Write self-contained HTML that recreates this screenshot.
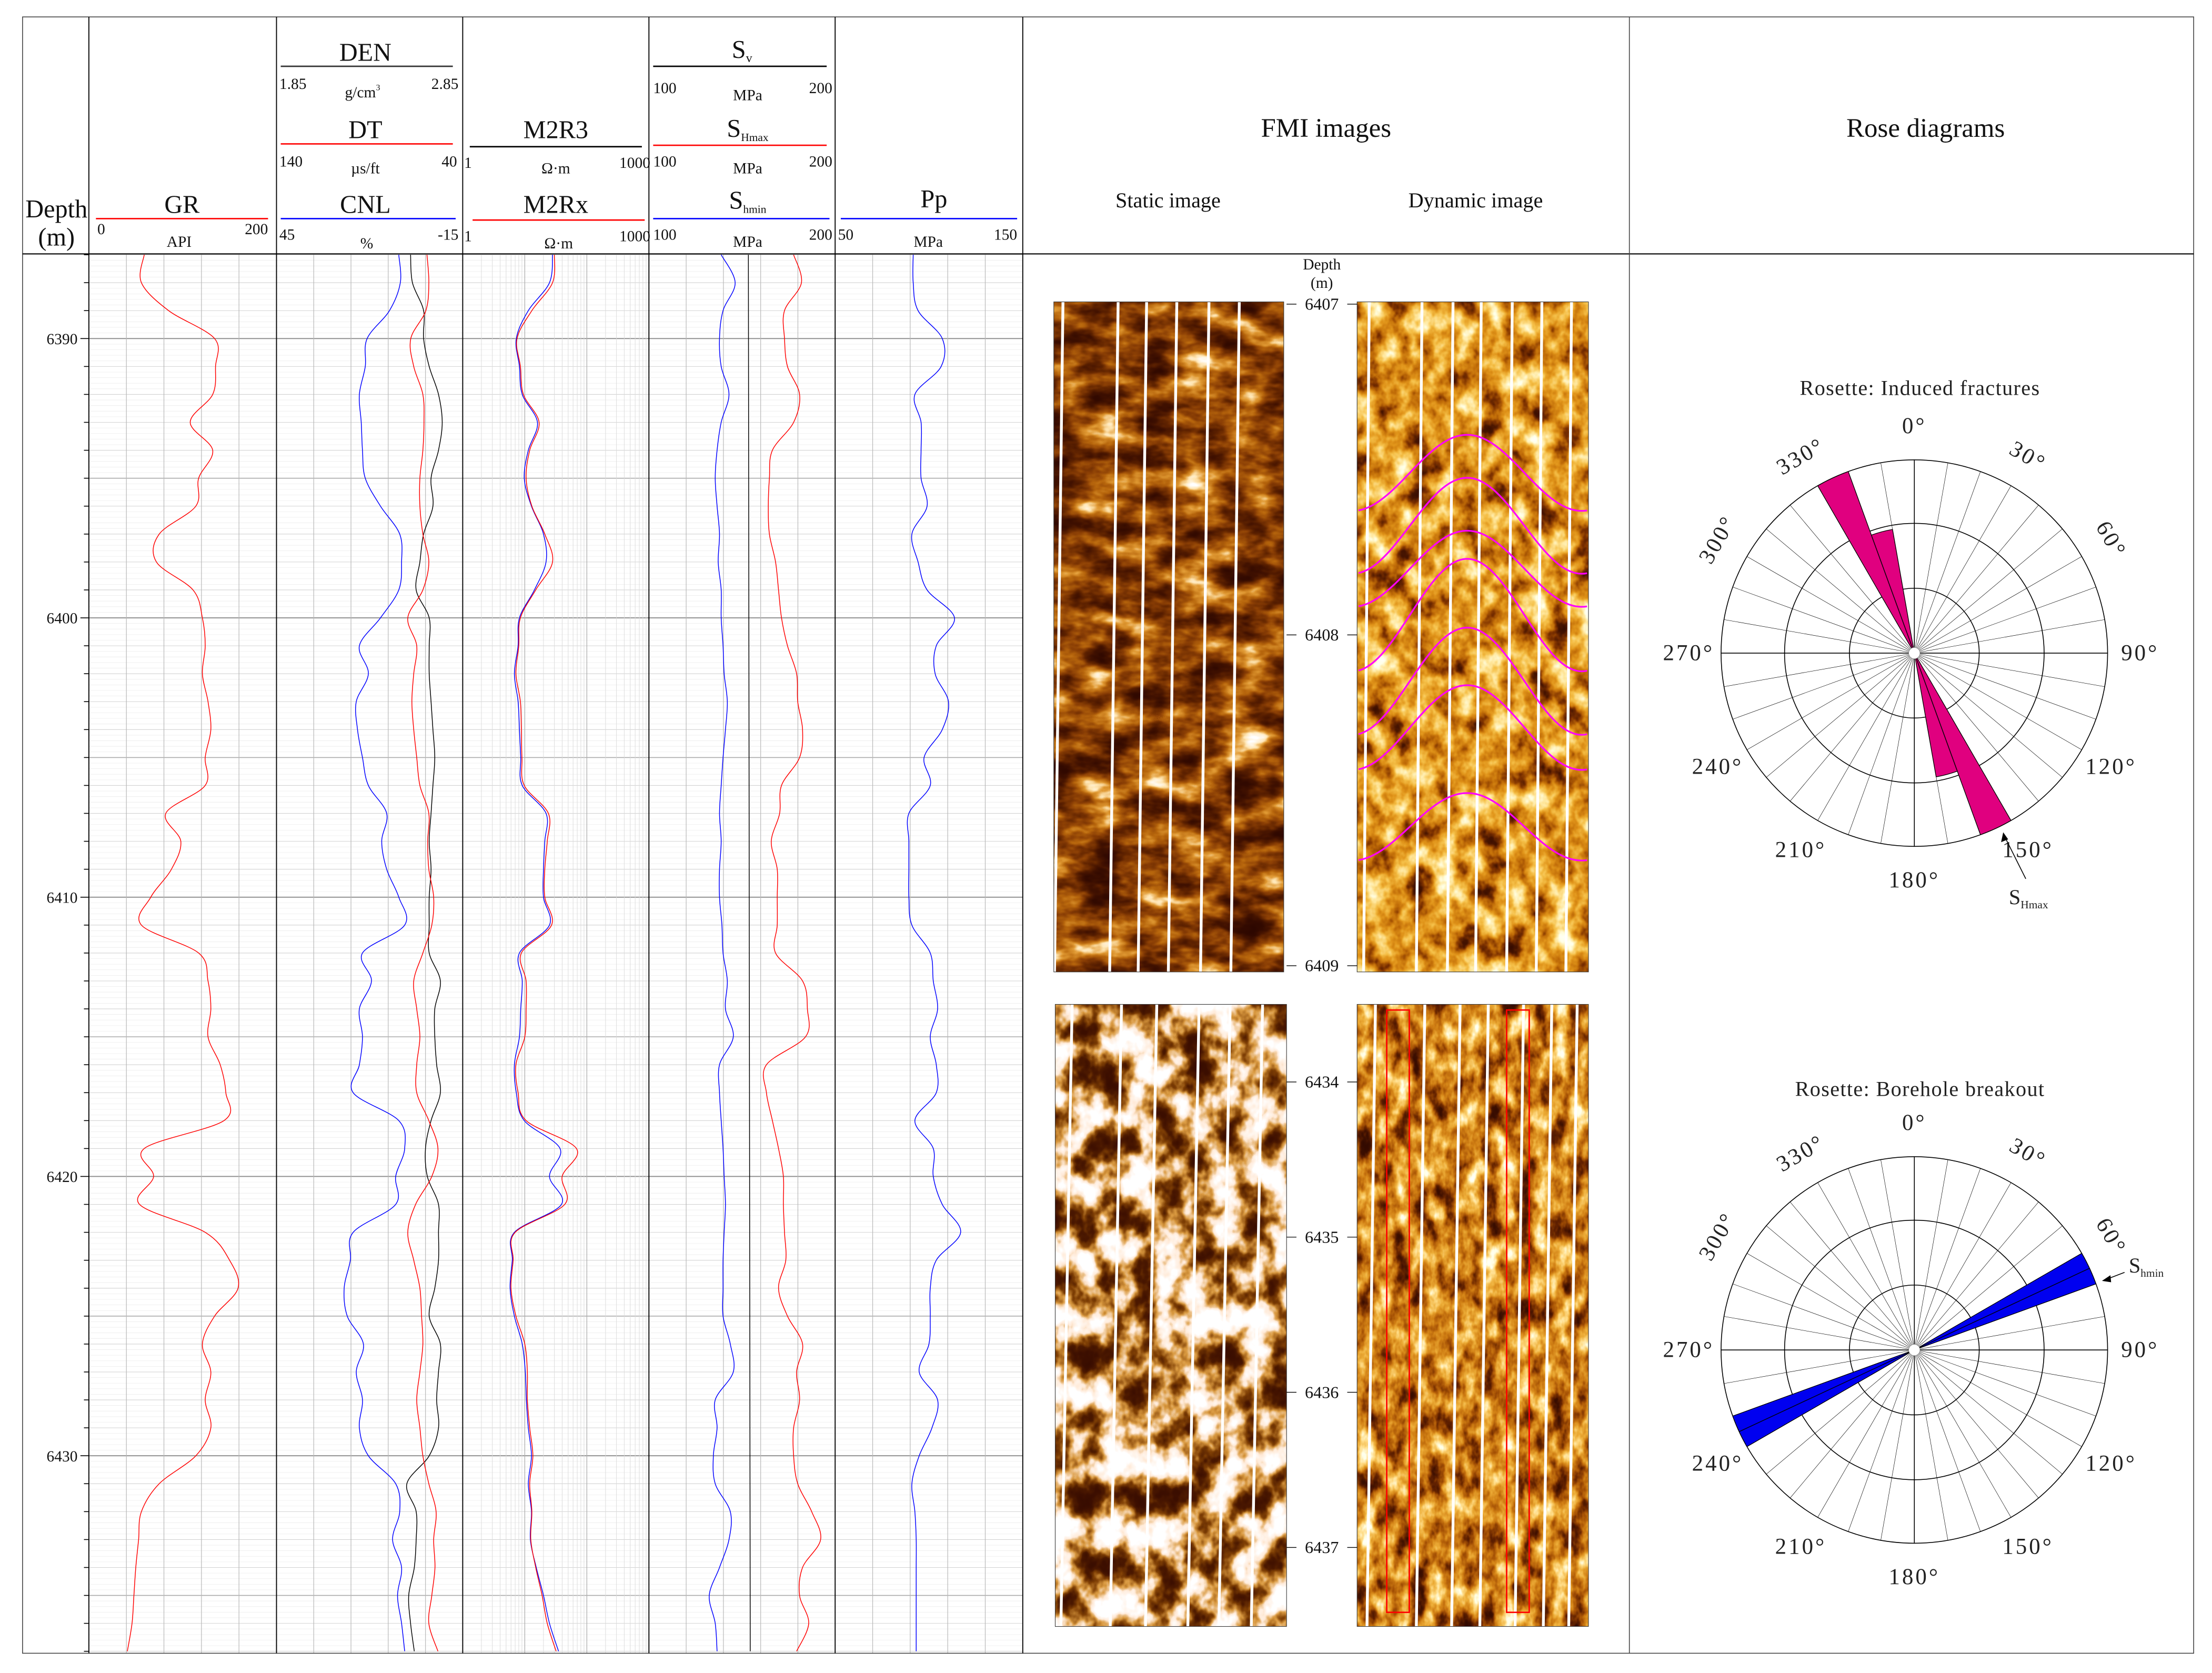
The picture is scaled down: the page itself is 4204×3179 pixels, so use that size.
<!DOCTYPE html>
<html><head><meta charset="utf-8"><style>
html,body{margin:0;padding:0;background:#fff;}
svg{display:block;font-family:"Liberation Serif",serif;}
filter{color-interpolation-filters:sRGB;}
</style></head><body>
<svg id="fig" xmlns="http://www.w3.org/2000/svg" width="4204" height="3179" viewBox="0 0 1568 1186" preserveAspectRatio="none">
<defs>
<filter id="fS1" x="0" y="0" width="1" height="1" color-interpolation-filters="sRGB"><feTurbulence type="fractalNoise" baseFrequency="0.03 0.06" numOctaves="4" seed="3"/><feColorMatrix type="matrix" values="1 0 0 0 0 1 0 0 0 0 1 0 0 0 0 0 0 0 0 1"/><feComponentTransfer><feFuncR type="table" tableValues="0.18 0.18 0.2 0.26 0.38 0.55 0.72 0.88 1 1 1"/><feFuncG type="table" tableValues="0.03 0.03 0.04 0.07 0.14 0.25 0.4 0.6 0.9 1 1"/><feFuncB type="table" tableValues="0 0 0 0 0 0.02 0.05 0.2 0.7 1 1"/><feFuncA type="linear" slope="0" intercept="1"/></feComponentTransfer></filter>
<filter id="fD1" x="0" y="0" width="1" height="1" color-interpolation-filters="sRGB"><feTurbulence type="fractalNoise" baseFrequency="0.06 0.05" numOctaves="4" seed="7"/><feColorMatrix type="matrix" values="1 0 0 0 0 1 0 0 0 0 1 0 0 0 0 0 0 0 0 1"/><feComponentTransfer><feFuncR type="table" tableValues="0.2 0.22 0.28 0.5 0.75 0.88 0.96 1 1 1 1"/><feFuncG type="table" tableValues="0.04 0.05 0.08 0.2 0.42 0.58 0.75 0.9 1 1 1"/><feFuncB type="table" tableValues="0 0 0 0 0.03 0.1 0.28 0.6 0.9 1 1"/><feFuncA type="linear" slope="0" intercept="1"/></feComponentTransfer></filter>
<filter id="fS2" x="0" y="0" width="1" height="1" color-interpolation-filters="sRGB"><feTurbulence type="fractalNoise" baseFrequency="0.05 0.04" numOctaves="4" seed="11"/><feColorMatrix type="matrix" values="1 0 0 0 0 1 0 0 0 0 1 0 0 0 0 0 0 0 0 1"/><feComponentTransfer><feFuncR type="table" tableValues="0.22 0.22 0.24 0.3 0.5 0.85 1 1 1 1 1"/><feFuncG type="table" tableValues="0.05 0.05 0.06 0.1 0.25 0.6 0.92 1 1 1 1"/><feFuncB type="table" tableValues="0 0 0 0 0.02 0.25 0.85 1 1 1 1"/><feFuncA type="linear" slope="0" intercept="1"/></feComponentTransfer></filter>
<filter id="fD2" x="0" y="0" width="1" height="1" color-interpolation-filters="sRGB"><feTurbulence type="fractalNoise" baseFrequency="0.08 0.05" numOctaves="4" seed="19"/><feColorMatrix type="matrix" values="1 0 0 0 0 1 0 0 0 0 1 0 0 0 0 0 0 0 0 1"/><feComponentTransfer><feFuncR type="table" tableValues="0.2 0.2 0.24 0.4 0.65 0.82 0.93 1 1 1 1"/><feFuncG type="table" tableValues="0.04 0.04 0.06 0.14 0.32 0.5 0.68 0.86 1 1 1"/><feFuncB type="table" tableValues="0 0 0 0 0.02 0.08 0.22 0.52 0.9 1 1"/><feFuncA type="linear" slope="0" intercept="1"/></feComponentTransfer></filter>
</defs>
<g id="grid"></g>
<g id="curves"></g>
<g id="fmi"></g>
<g id="roses"></g>
<g id="frame" fill="none">
<rect x="16" y="12" width="1539" height="1160" stroke="#444" stroke-width="0.6"/>
<line x1="16" y1="180" x2="1555" y2="180" stroke="#000" stroke-width="0.8"/>
<line x1="63" y1="12" x2="63" y2="1172" stroke="#000" stroke-width="0.7"/>
<line x1="196" y1="12" x2="196" y2="1172" stroke="#000" stroke-width="0.7"/>
<line x1="328" y1="12" x2="328" y2="1172" stroke="#000" stroke-width="0.7"/>
<line x1="460" y1="12" x2="460" y2="1172" stroke="#000" stroke-width="0.7"/>
<line x1="592" y1="12" x2="592" y2="1172" stroke="#000" stroke-width="0.7"/>
<line x1="725" y1="12" x2="725" y2="1172" stroke="#000" stroke-width="0.7"/>
<line x1="1155" y1="12" x2="1155" y2="1172" stroke="#444" stroke-width="0.6"/>
</g>
<g id="header" fill="#111" text-anchor="middle">
<text x="40" y="154" font-size="18">Depth</text>
<text x="40" y="174" font-size="18">(m)</text>
<text x="129" y="151" font-size="18">GR</text>
<line x1="68" y1="155" x2="190" y2="155" stroke="#f00" stroke-width="1"/>
<text x="69" y="166" font-size="11" text-anchor="start">0</text>
<text x="190" y="166" font-size="11" text-anchor="end">200</text>
<text x="127" y="175" font-size="11">API</text>
<text x="259" y="43" font-size="18">DEN</text>
<line x1="199" y1="47" x2="321" y2="47" stroke="#333" stroke-width="1"/>
<text x="198" y="63" font-size="11" text-anchor="start">1.85</text>
<text x="325" y="63" font-size="11" text-anchor="end">2.85</text>
<text x="257" y="69" font-size="11">g/cm<tspan font-size="6" dy="-5">3</tspan></text>
<text x="259" y="98" font-size="18">DT</text>
<line x1="199" y1="102" x2="321" y2="102" stroke="#f00" stroke-width="1"/>
<text x="198" y="118" font-size="11" text-anchor="start">140</text>
<text x="324" y="118" font-size="11" text-anchor="end">40</text>
<text x="259" y="123" font-size="11">µs/ft</text>
<text x="259" y="151" font-size="18">CNL</text>
<line x1="199" y1="155" x2="323" y2="155" stroke="#00f" stroke-width="1"/>
<text x="198" y="170" font-size="11" text-anchor="start">45</text>
<text x="325" y="170" font-size="11" text-anchor="end">-15</text>
<text x="260" y="176" font-size="11">%</text>
<text x="394" y="98" font-size="18">M2R3</text>
<line x1="333" y1="104" x2="455" y2="104" stroke="#000" stroke-width="1"/>
<text x="329" y="119" font-size="11" text-anchor="start">1</text>
<text x="461" y="119" font-size="11" text-anchor="end">1000</text>
<text x="394" y="123" font-size="11">Ω·m</text>
<text x="394" y="151" font-size="18">M2Rx</text>
<line x1="335" y1="156" x2="457" y2="156" stroke="#f00" stroke-width="1"/>
<text x="329" y="171" font-size="11" text-anchor="start">1</text>
<text x="461" y="171" font-size="11" text-anchor="end">1000</text>
<text x="396" y="176" font-size="11">Ω·m</text>
<text x="526" y="41" font-size="18">S<tspan font-size="9" dy="3">v</tspan></text>
<line x1="463" y1="47" x2="586" y2="47" stroke="#000" stroke-width="1"/>
<text x="463" y="66" font-size="11" text-anchor="start">100</text>
<text x="590" y="66" font-size="11" text-anchor="end">200</text>
<text x="530" y="71" font-size="11">MPa</text>
<text x="530" y="97" font-size="18">S<tspan font-size="8" dy="3">Hmax</tspan></text>
<line x1="463" y1="103" x2="586" y2="103" stroke="#f00" stroke-width="1"/>
<text x="463" y="118" font-size="11" text-anchor="start">100</text>
<text x="590" y="118" font-size="11" text-anchor="end">200</text>
<text x="530" y="123" font-size="11">MPa</text>
<text x="530" y="148" font-size="18">S<tspan font-size="8" dy="3">hmin</tspan></text>
<line x1="463" y1="155" x2="588" y2="155" stroke="#00f" stroke-width="1"/>
<text x="463" y="170" font-size="11" text-anchor="start">100</text>
<text x="590" y="170" font-size="11" text-anchor="end">200</text>
<text x="530" y="175" font-size="11">MPa</text>
<text x="662" y="147" font-size="18">Pp</text>
<line x1="596" y1="155" x2="721" y2="155" stroke="#00f" stroke-width="1"/>
<text x="594" y="170" font-size="11" text-anchor="start">50</text>
<text x="721" y="170" font-size="11" text-anchor="end">150</text>
<text x="658" y="175" font-size="11">MPa</text>
<text x="940" y="97" font-size="19">FMI images</text>
<text x="828" y="147" font-size="15">Static image</text>
<text x="1046" y="147" font-size="15">Dynamic image</text>
<text x="1365" y="97" font-size="19">Rose diagrams</text>
<text x="937" y="191" font-size="11">Depth</text>
<text x="937" y="204" font-size="11">(m)</text>
</g>
</svg>
<script>
// ---------- data ----------
const depth = [6387,6388,6389,6390,6391,6392,6393,6394,6395,6396,6397,6398,6399,6400,6401,6402,6403,6404,6405,6406,6407,6408,6409,6410,6411,6412,6413,6414,6415,6416,6417,6418,6419,6420,6421,6422,6423,6424,6425,6426,6427,6428,6429,6430,6431,6432,6433,6434,6435,6436,6437];
const gr = [59,56,85,134,135,132,108,132,117,114,75,72,111,121,124,121,127,130,124,124,82,98,88,66,56,117,127,130,127,140,146,144,59,69,54,124,150,159,134,121,130,124,130,114,75,56,53,50,48,46,41];
const cnl = [5.6,5.1,8.6,15.8,16.4,18.3,17.7,17.3,16.4,11.5,5.3,4.7,5.6,11.5,18.3,15.4,19.3,18.9,17.3,15.4,9.5,11.1,9.5,5.6,3.7,17.3,14.4,18.3,17.3,18.3,20.3,5.6,3.7,6.6,6.6,20.3,21.2,23.2,22.2,17.0,19.3,17.3,18.3,15.4,6.6,5.3,7.6,4.7,6.0,4.7,3.7];
const den = [2.57,2.58,2.64,2.64,2.67,2.72,2.74,2.72,2.68,2.69,2.64,2.62,2.60,2.67,2.67,2.67,2.68,2.69,2.70,2.69,2.68,2.67,2.68,2.67,2.67,2.67,2.73,2.70,2.70,2.71,2.73,2.68,2.65,2.66,2.72,2.72,2.72,2.70,2.67,2.73,2.72,2.71,2.72,2.67,2.55,2.60,2.60,2.59,2.56,2.57,2.59];
const dt = [59.2,58.2,59.8,67.9,66.3,61.4,60.8,61.4,63.0,63.0,61.4,58.2,61.4,69.5,64.7,66.3,67.3,66.3,64.7,63.0,58.2,58.8,58.2,55.6,56.6,61.4,66.3,64.7,63.0,64.7,64.7,58.2,53.3,56.6,65.3,69.5,66.3,63.0,62.1,61.4,63.0,64.7,63.0,61.4,58.2,54.3,55.6,54.9,56.6,58.2,53.3];
const m2r3 = [28,25,11.4,7.3,8.2,9.1,16,11.4,9.8,12.8,20,22,14.3,8.2,7.8,6.8,7.8,8.2,8.6,9.1,22,21,20,20,25,8.2,9.1,8.6,8.2,6.8,7.3,9.8,37,25,39,6.8,6.3,5.8,6.8,9.1,10.2,10.6,11.4,12.8,11.4,12.8,12.3,15.3,20,25,35];
const m2rx = [30,28,13,7.5,8.5,9.5,17,12,10.5,13,21,28,15,8.5,8,7.2,8.5,8.8,9,9.8,24,23,21,21,27,8.8,10.5,10.5,10,7.2,7.8,10.5,68,40,44,7,6.5,6,7.2,10,11,11,12,13.5,12,13,12.5,15,19,23,32];
const svDepth = [6387,6437];
const sv = [153.4,154.4];
const shmin = [138.8,146.3,139.8,137.9,138.8,143.0,138.8,136.6,135.6,136.6,137.9,137.2,138.8,138.8,139.8,140.4,142.1,141.1,139.8,138.8,137.9,138.8,137.9,137.9,139.2,139.8,142.1,141.1,145.3,137.9,137.9,138.8,139.8,140.4,141.1,140.4,139.8,139.8,139.8,143.7,145.3,135.6,136.6,134.6,135.6,143.7,143.0,137.9,132.4,135.6,136.6];
const shmax = [177.7,181.9,172.8,172.8,174.4,180.9,177.7,166.3,164.7,164.1,164.7,168.0,169.6,171.2,174.4,179.3,179.9,182.5,180.9,171.2,170.2,165.7,168.9,168.9,168.9,168.0,182.5,185.1,184.1,163.1,163.1,166.3,169.6,172.2,172.2,172.8,173.5,169.6,174.4,182.5,179.3,180.9,177.7,177.7,179.9,187.4,192.2,182.5,180.9,185.8,179.3];
const pp = [91.6,91.6,94.2,107.1,106.5,92.5,95.8,95.8,95.8,99.0,90.9,94.2,99.0,113.6,103.9,103.3,110.4,107.1,97.4,100.7,89.3,89.3,89.3,89.3,90.9,100.7,102.3,104.6,100.7,103.9,103.9,92.5,102.3,102.3,107.1,116.9,103.9,100.7,100.7,100.0,94.8,104.6,101.6,94.8,90.9,92.5,93.2,93.2,93.2,93.2,93.2];
const depthTicks = [6390,6400,6410,6420,6430];
const roseIFStart = [330,340,150,160];
const roseIFLen = [1.0,0.65,1.0,0.65];
const roseBBStart = [60,240];
const roseBBLen = [1.0,1.0];
const roseWidth = 10;
const roseLabels = [0,30,60,90,120,150,180,210,240,270,300,330];
const fmi1Ticks = [6407,6408,6409];
const fmi2Ticks = [6434,6435,6436,6437];
const sinCenters = [6407.51,6407.67,6407.80,6407.94,6408.14,6408.28,6408.58];
const sinAmps = [0.115,0.145,0.115,0.17,0.162,0.128,0.102];

// ---------- geometry ----------
const NS='http://www.w3.org/2000/svg';
const Y0=240, PX_PER_M=19.8, TOP=180, BOT=1172;
function yD(d){return Y0+(d-6390)*PX_PER_M;}
function lin(x0,x1,v0,v1){return v=>x0+(v-v0)/(v1-v0)*(x1-x0);}
function logx(x0,x1,v0,v1){return v=>x0+(Math.log10(v)-Math.log10(v0))/(Math.log10(v1)-Math.log10(v0))*(x1-x0);}
const T={gr:[63,196],den:[196,328],res:[328,460],str:[460,592],pp:[592,725]};
const xGR=lin(63,196,0,200), xDEN=lin(196,328,1.85,2.85), xDT=lin(196,328,140,40), xCNL=lin(196,328,45,-15);
const xRES=logx(328,460,1,1000), xSTR=lin(460,592,100,200), xPP=lin(592,725,50,150);
function el(tag,attrs,parent){const e=document.createElementNS(NS,tag);for(const k in attrs)e.setAttribute(k,attrs[k]);parent.appendChild(e);return e;}
function smooth(pts){let d='M'+pts[0][0].toFixed(2)+','+pts[0][1].toFixed(2);
 for(let i=0;i<pts.length-1;i++){const p0=pts[Math.max(0,i-1)],p1=pts[i],p2=pts[i+1],p3=pts[Math.min(pts.length-1,i+2)];
 const c1=[p1[0]+(p2[0]-p0[0])/6,p1[1]+(p2[1]-p0[1])/6],c2=[p2[0]-(p3[0]-p1[0])/6,p2[1]-(p3[1]-p1[1])/6];
 d+='C'+c1[0].toFixed(2)+','+c1[1].toFixed(2)+' '+c2[0].toFixed(2)+','+c2[1].toFixed(2)+' '+p2[0].toFixed(2)+','+p2[1].toFixed(2);}
 return d;}

// ---------- grid ----------
const G=document.getElementById('grid');
for(let k=0;k<=250;k++){const dd=6387+k*0.2;const y=yD(dd);if(y<TOP||y>BOT)continue;
 const isM=(k%5===0);const r=Math.round(dd);
 let c='#ececec',w=0.3; if(isM){c='#d2d2d2';w=0.4;} if(isM&&r%5===0){c='#aaaaaa';w=0.6;} if(isM&&r%10===0){c='#8c8c8c';w=0.7;}
 const ln=el('line',{x1:63,x2:725,y1:y,y2:y,stroke:c,'stroke-width':w},G);
 
 
}
for(const k of ['gr','den','str','pp']){const [a,b]=T[k];for(let i=1;i<5;i++){const x=a+(b-a)*i/5;
 const ln=el('line',{x1:x,x2:x,y1:TOP,y2:BOT,stroke:'#b8b8b8','stroke-width':0.45},G);
 
 }}
for(let dec=0;dec<3;dec++)for(let m=1;m<=9;m++){const v=Math.pow(10,dec)*m;if(v===1)continue;const x=xRES(v);
 const ln=el('line',{x1:x,x2:x,y1:TOP,y2:BOT,stroke:m===1?'#b0b0b0':'#dadada','stroke-width':m===1?0.5:0.35},G);
 
 }
for(let d=6387;d<=6437;d++){const y=yD(d);const big=d%10===0;
 const tk=el('line',{x1:big?57:59.5,x2:63,y1:y,y2:y,stroke:'#000','stroke-width':0.6},G);
 
 }
depthTicks.forEach(d=>{const t=el('text',{x:55,y:yD(d)+4,'font-size':11,'text-anchor':'end',fill:'#111'},G);t.textContent=d;
 
 });

// ---------- curves ----------
const C=document.getElementById('curves');
function curve(vals,xf,color,name,dep){const ds=dep||depth;const pts=vals.map((v,i)=>[xf(v),yD(ds[i])]);
 const p=el('path',{d:smooth(pts),fill:'none',stroke:color,'stroke-width':0.55,'stroke-linejoin':'round'},C);
 
 }
curve(gr,xGR,'#f00','gr-curve');
curve(den,xDEN,'#000','den-curve');
curve(dt,xDT,'#f00','dt-curve');
curve(cnl,xCNL,'#00f','cnl-curve');
curve(m2r3,xRES,'#00f','m2r3-curve');
curve(m2rx,xRES,'#f00','m2rx-curve');
curve(sv,xSTR,'#000','sv-curve',svDepth);
curve(shmin,xSTR,'#00f','shmin-curve');
curve(shmax,xSTR,'#f00','shmax-curve');
curve(pp,xPP,'#00f','pp-curve');

// ---------- FMI ----------
const F=document.getElementById('fmi');
function fmiImg(x,y,w,h,filt,name,lines,slant){
 const r=el('rect',{x:x,y:y,width:w,height:h,filter:'url(#'+filt+')'},F);
 
 
 lines.forEach(lx=>{const l=el('line',{x1:lx,y1:y,x2:lx-slant,y2:y+h,stroke:'#fff','stroke-width':2},F);
  
  });
 const b=el('rect',{x:x,y:y,width:w,height:h,fill:'none',stroke:'#333','stroke-width':0.4},F);
 
 
}
fmiImg(747,214,163,475,'fS1','static-image-upper',[753.5,792.6,812.8,834.2,857,878.5],6);
fmiImg(962,214,164,475,'fD1','dynamic-image-upper',[970.6,1008,1030,1050,1072,1093,1114],4);
fmiImg(748,712,164,441,'fS2','static-image-lower',[760,795,820,850,872,895],8);
fmiImg(962,712,164,441,'fD2','dynamic-image-lower',[975,1010,1035,1055,1080,1100,1118],6);
const fY1=d=>215.6+(d-6407)*234.5;
sinCenters.forEach((c,i)=>{const pts=[];for(let x=963;x<=1126;x+=2){pts.push([x,fY1(c)-sinAmps[i]*234.5*Math.cos(2*Math.PI*(x-1040)/162.6)]);}
 const p=el('path',{d:'M'+pts.map(q=>q[0]+','+q[1].toFixed(2)).join('L'),fill:'none',stroke:'#f0f','stroke-width':1.2},F);
 
 });
[[983,716,16,427],[1068,716,16,427]].forEach(b=>{const r=el('rect',{x:b[0],y:b[1],width:b[2],height:b[3],fill:'none',stroke:'#f00','stroke-width':1},F);
 
 });
function fTick(d,y){const l1=el('line',{x1:912,x2:919,y1:y,y2:y,stroke:'#000','stroke-width':0.5},F);
 
 
 const l2=el('line',{x1:955,x2:962,y1:y,y2:y,stroke:'#000','stroke-width':0.5},F);
 
 
 const t=el('text',{x:937,y:y+4,'font-size':12,'text-anchor':'middle',fill:'#111'},F);t.textContent=d;
 
 }
fmi1Ticks.forEach(d=>fTick(d,215.6+(d-6407)*234.5));
fmi2Ticks.forEach(d=>fTick(d,767+(d-6434)*110));

// ---------- roses ----------
const R=document.getElementById('roses');
function rose(cx,cy,title,starts,lens,color,name,midline,tOff){
 const RR=137;
 const t=el('text',{x:cx+4,y:cy-tOff,'font-size':15,'text-anchor':'middle',fill:'#222','letter-spacing':'0.5'},R);t.textContent=title;
 
 
 const bg=el('circle',{cx:cx,cy:cy,r:RR,fill:'#fff',stroke:'#000','stroke-width':0.6},R);
 
 
 for(let a=0;a<360;a+=10){const rad=a*Math.PI/180;const major=a%90===0;
  const s=el('line',{x1:cx,y1:cy,x2:cx+RR*Math.sin(rad),y2:cy-RR*Math.cos(rad),stroke:'#000','stroke-width':major?0.6:0.25},R);
  
  }
 [46,92].forEach(r=>{const c=el('circle',{cx:cx,cy:cy,r:r,fill:'none',stroke:'#000','stroke-width':0.6},R);
  
  });
 starts.forEach((a0,i)=>{const a1=a0+roseWidth;const r=lens[i]*RR;const p0=a0*Math.PI/180,p1=a1*Math.PI/180;
  const d='M'+cx+','+cy+'L'+(cx+r*Math.sin(p0))+','+(cy-r*Math.cos(p0))+'A'+r+','+r+' 0 0 1 '+(cx+r*Math.sin(p1))+','+(cy-r*Math.cos(p1))+'Z';
  const p=el('path',{d:d,fill:color,stroke:'#000','stroke-width':0.5},R);
  
  
  if(midline){const pm=(a0+roseWidth/2)*Math.PI/180;const m=el('line',{x1:cx,y1:cy,x2:cx+r*Math.sin(pm),y2:cy-r*Math.cos(pm),stroke:'#000','stroke-width':0.5},R);
   
   }});
 const cc=el('circle',{cx:cx,cy:cy,r:4,fill:'#fff',stroke:'#888','stroke-width':0.3},R);
 
 
 roseLabels.forEach(a=>{const rad=a*Math.PI/180;const lr=(a===90||a===270)?160:161;const x=cx+lr*Math.sin(rad),y=cy-lr*Math.cos(rad);
  const rot=(a===30||a===60)?a:((a===300||a===330)?a-360:0);
  const tx=el('text',{x:x,y:y,'font-size':16,'text-anchor':'middle','dominant-baseline':'central',fill:'#222','letter-spacing':'1.5',transform:'rotate('+rot+' '+x+' '+y+')'},R);
  tx.textContent=a+'°';
  
  });
}
rose(1357,463,'Rosette: Induced fractures',roseIFStart,roseIFLen,'#e0007f','rose-induced-fractures',false,183);
rose(1357,957,'Rosette: Borehole breakout',roseBBStart,roseBBLen,'#0000f0','rose-borehole-breakout',true,180);
const a1=el('line',{x1:1436,y1:623,x2:1421,y2:593,stroke:'#000','stroke-width':0.6},R);


const h1=el('path',{d:'M1420,590 L1418.5,597 L1423.5,595 Z',fill:'#000'},R);


const s1=el('text',{x:1424,y:641,'font-size':15,fill:'#222'},R);
s1.textContent='S';


const s1s=el('tspan',{'font-size':8,dy:3},s1);
s1s.textContent='Hmax';


const a2=el('line',{x1:1506,y1:902,x2:1493,y2:907,stroke:'#000','stroke-width':0.6},R);


const h2=el('path',{d:'M1490,908 L1496,904 L1496.5,909 Z',fill:'#000'},R);


const s2=el('text',{x:1509,y:902,'font-size':15,fill:'#222'},R);
s2.textContent='S';


const s2s=el('tspan',{'font-size':8,dy:3},s2);
s2s.textContent='hmin';


</script>
</body></html>
